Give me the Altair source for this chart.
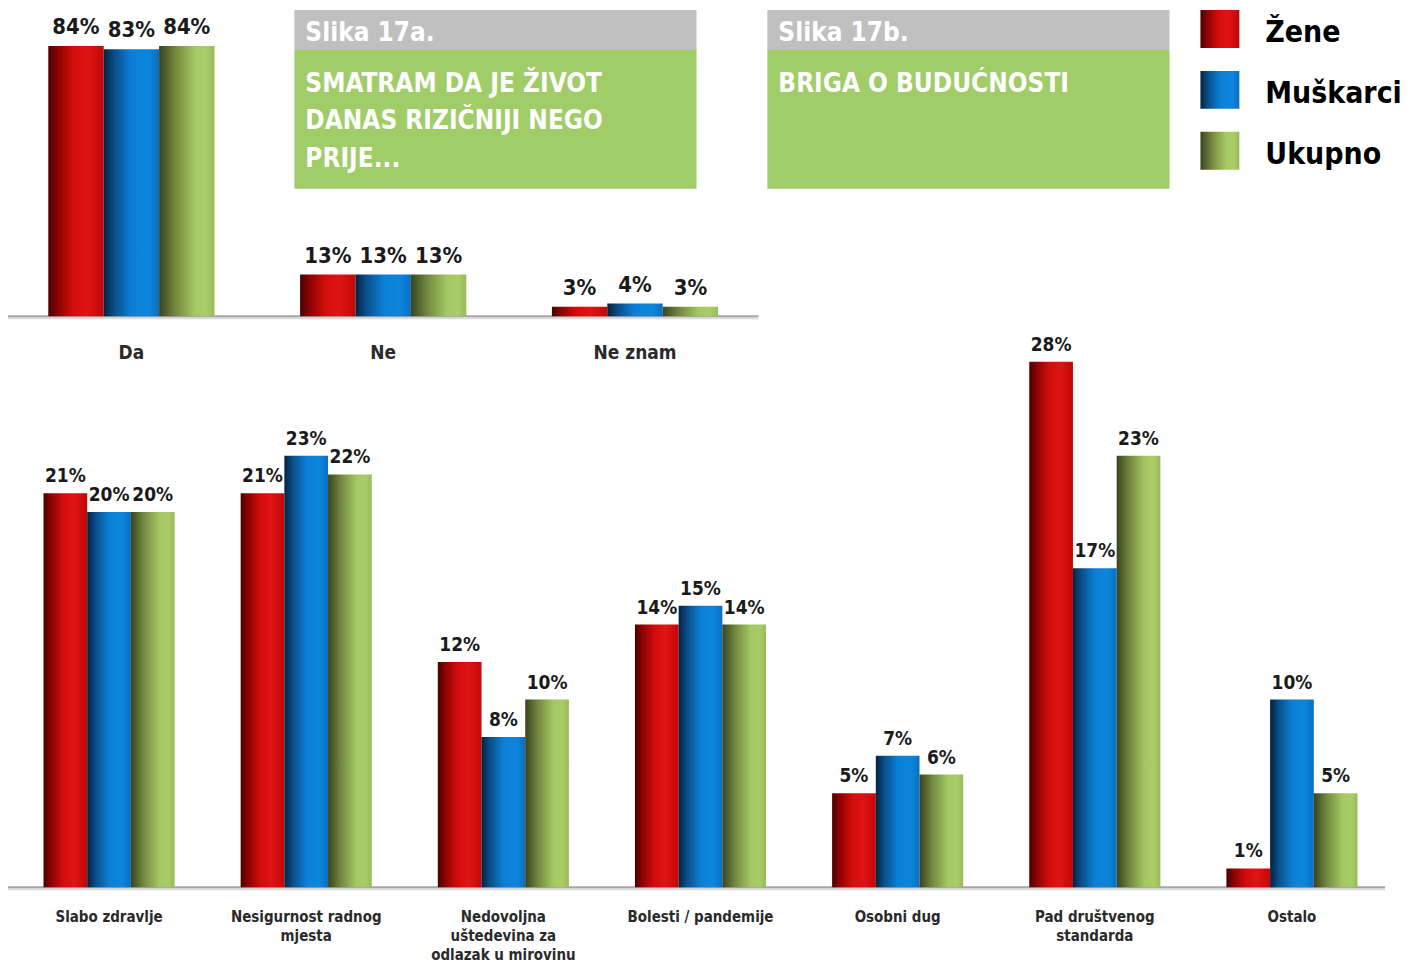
import altair as alt
import pandas as pd

SERIES = ["Žene", "Muškarci", "Ukupno"]

# Slika 17a
CATS_A = ["Da", "Ne", "Ne znam"]
ZENE_A = [84, 13, 3]
MUSKARCI_A = [83, 13, 4]
UKUPNO_A = [84, 13, 3]

# Slika 17b
CATS_B = ["Slabo zdravlje", "Nesigurnost radnog mjesta",
          "Nedovoljna uštedevina za odlazak u mirovinu", "Bolesti / pandemije",
          "Osobni dug", "Pad društvenog standarda", "Ostalo"]
LABELS_B = ["Slabo zdravlje", "Nesigurnost radnog\nmjesta",
            "Nedovoljna\nuštedevina za\nodlazak u mirovinu", "Bolesti / pandemije",
            "Osobni dug", "Pad društvenog\nstandarda", "Ostalo"]
ZENE_B = [21, 21, 12, 14, 5, 28, 1]
MUSKARCI_B = [20, 23, 8, 15, 7, 17, 10]
UKUPNO_B = [20, 22, 10, 14, 6, 23, 5]

TITLE_A_HEAD = "Slika 17a."
TITLE_A_BODY = "SMATRAM DA JE ŽIVOT\nDANAS RIZIČNIJI NEGO\nPRIJE..."
TITLE_B_HEAD = "Slika 17b."
TITLE_B_BODY = "BRIGA O BUDUĆNOSTI"

NARROW = "Liberation Sans Narrow, DejaVu Sans Condensed, sans-serif"
COND = "DejaVu Sans Condensed, DejaVu Sans, sans-serif"


def long_df(cats, zene, musk, uk):
    rows = []
    for s, vals in zip(SERIES, [zene, musk, uk]):
        for c, v in zip(cats, vals):
            rows.append({"cat": c, "series": s, "value": v, "label": f"{v}%"})
    return pd.DataFrame(rows)


def grad(stops):
    return alt.Gradient(gradient="linear", x1=0, x2=1, y1=0, y2=0,
                        stops=[alt.GradientStop(color=c, offset=o) for o, c in stops])


FILLS = {
    "Žene": grad([(0, "#4a0000"), (0.18, "#8e0303"), (0.45, "#d30c0c"),
                  (0.7, "#e01414"), (1, "#c20707")]),
    "Muškarci": grad([(0, "#04223f"), (0.2, "#0a4f8c"), (0.5, "#0b7fd6"),
                      (0.8, "#0d85dc"), (1, "#0a6fc2")]),
    "Ukupno": grad([(0, "#38441f"), (0.3, "#74893f"), (0.65, "#a4c863"),
                    (0.85, "#aacd6a"), (1, "#98bb5a")]),
}


def panel(df, cats, labels, x_range, pad_inner, pad_outer, y_domain, y_range,
          line_x2, pct_size, pct_dy, cat_y, cat_size, cat_lh):
    x = alt.X("cat:N", axis=None,
              scale=alt.Scale(domain=cats, range=x_range,
                              paddingInner=pad_inner, paddingOuter=pad_outer))
    xo = alt.XOffset("series:N",
                     scale=alt.Scale(domain=SERIES, paddingInner=0, paddingOuter=0))
    yscale = alt.Scale(domain=y_domain, range=y_range)
    y = alt.Y("value:Q", axis=None, scale=yscale)

    zero = pd.DataFrame({"zero": [0]})
    shadow = alt.Chart(zero).mark_rule(color="#dcdcdc", strokeWidth=2, yOffset=2).encode(
        x=alt.value(0), x2=alt.value(line_x2),
        y=alt.Y("zero:Q", axis=None, scale=yscale))
    rule = alt.Chart(zero).mark_rule(color="#a6a6a6", strokeWidth=2).encode(
        x=alt.value(0), x2=alt.value(line_x2),
        y=alt.Y("zero:Q", axis=None, scale=yscale))

    base = alt.Chart(df)
    bars = [base.transform_filter(alt.datum.series == s)
            .mark_bar(color=FILLS[s], cornerRadius=0)
            .encode(x=x, xOffset=xo, y=y)
            for s in SERIES]
    pct = base.mark_text(baseline="alphabetic", dy=pct_dy, font=COND,
                         fontWeight="bold", fontSize=pct_size, color="#1a1a1a").encode(
        x=x, xOffset=xo, y=y, text="label:N")
    cat_df = pd.DataFrame({"cat": cats, "label": labels})
    cat_text = alt.Chart(cat_df).mark_text(
        baseline="middle", lineBreak="\n", lineHeight=cat_lh, font=COND,
        fontWeight="bold", fontSize=cat_size, color="#2a2a2a").encode(
        x=x, y=alt.value(cat_y), text="label:N")
    return alt.layer(shadow, rule, *bars, pct, cat_text)


top = panel(long_df(CATS_A, ZENE_A, MUSKARCI_A, UKUPNO_A), CATS_A, CATS_A,
            [0, 752], 0.34, 0.16, [0, 95.5], [308, 0], 752, 22, -12, 345, 19, 22)
bottom = panel(long_df(CATS_B, ZENE_B, MUSKARCI_B, UKUPNO_B), CATS_B, LABELS_B,
               [2, 1386], 0.335, 0.17, [0, 30], [880, 316], 1380, 19, -11, 910, 15, 19)

one = pd.DataFrame({"k": [0]})


def box(x1, x2, y1, y2, color):
    return alt.Chart(one).mark_rect(color=color).encode(
        x=alt.value(x1), x2=alt.value(x2), y=alt.value(y1), y2=alt.value(y2))


def txt(x, y, s, size, font, lh=None, color="white"):
    kw = dict(align="left", baseline="alphabetic", font=font, fontWeight="bold",
              fontSize=size, color=color, lineBreak="\n")
    if lh:
        kw["lineHeight"] = lh
    return alt.Chart(one).mark_text(**kw).encode(
        x=alt.value(x), y=alt.value(y), text=alt.value(s))


decor = [
    box(287, 690, 1, 41, "#c0c0c0"), box(287, 690, 41, 180, "#a0cd68"),
    txt(298, 32, TITLE_A_HEAD, 26, NARROW),
    txt(298, 83, TITLE_A_BODY, 26, NARROW, lh=37.5),
    box(761, 1164, 1, 41, "#c0c0c0"), box(761, 1164, 41, 180, "#a0cd68"),
    txt(772, 32, TITLE_B_HEAD, 26, NARROW),
    txt(772, 83, TITLE_B_BODY, 26, NARROW),
]
leg_y = [(1, 39, 33), (62, 100, 94), (123, 161, 155)]
for s, (y1, y2, yb) in zip(SERIES, leg_y):
    decor.append(alt.Chart(one).mark_rect(color=FILLS[s]).encode(
        x=alt.value(1195), x2=alt.value(1234), y=alt.value(y1), y2=alt.value(y2)))
    decor.append(txt(1260, yb, s, 30, COND, color="#000000"))

chart = alt.layer(top, bottom, *decor).resolve_scale(
    x="independent", y="independent", xOffset="independent"
).properties(
    width=1400, height=956, padding=0,
    autosize=alt.AutoSizeParams(type="none"),
).configure_view(stroke=None)

chart.save("out.html", embed_options={"renderer": "svg", "actions": False})
